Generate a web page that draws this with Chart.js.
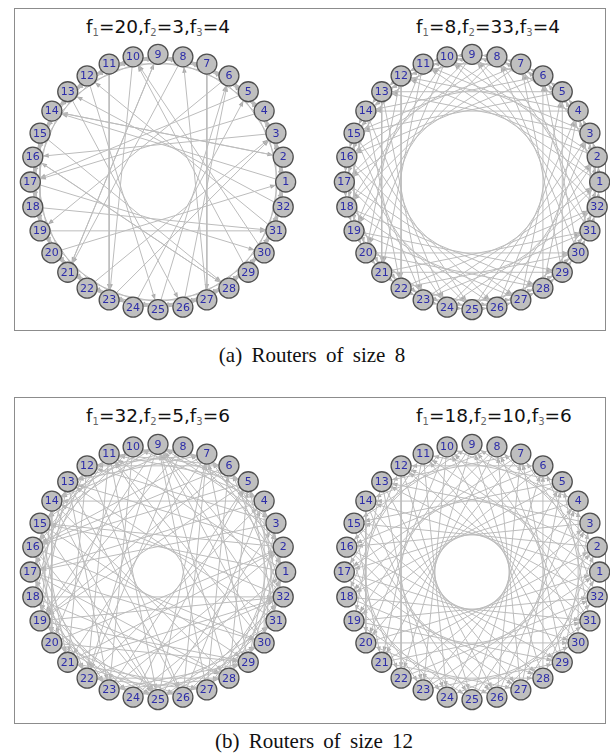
<!DOCTYPE html>
<html>
<head>
<meta charset="utf-8">
<script src="https://cdn.jsdelivr.net/npm/chart.js@4.4.1/dist/chart.umd.min.js"></script>
<style>
  body { margin: 0; width: 610px; height: 756px; overflow: hidden; background: #fff; position: relative; font-family: "DejaVu Sans", sans-serif; }
  .box { position: absolute; border: 1.5px solid #8c8c8c; }
  .plot { position: absolute; width: 300px; height: 300px; }
  .title { position: absolute; font-size: 18.5px; line-height: 22px; transform: translateX(-50%); white-space: nowrap; color: #111; }
  .title sub { font-size: 10px; color: #666; vertical-align: -3px; }
  .cap { position: absolute; font-family: "Liberation Serif", serif; font-size: 21px; line-height: 24px; transform: translateX(-50%); white-space: nowrap; word-spacing: 4px; color: #111; }
</style>
</head>
<body>
<div class="box" style="left:14px;top:8px;width:590px;height:321px"></div>
<div class="box" style="left:14px;top:397px;width:590px;height:325px"></div>

<div class="title" id="t1" style="left:158px;top:16px"></div>
<div class="title" id="t2" style="left:488px;top:16px"></div>
<div class="title" id="t3" style="left:158px;top:405px"></div>
<div class="title" id="t4" style="left:494px;top:405px"></div>

<div class="plot" style="left:8px;top:32px"><canvas id="g1" width="300" height="300"></canvas></div>
<div class="plot" style="left:322px;top:32px"><canvas id="g2" width="300" height="300"></canvas></div>
<div class="plot" style="left:8px;top:422px"><canvas id="g3" width="300" height="300"></canvas></div>
<div class="plot" style="left:322px;top:422px"><canvas id="g4" width="300" height="300"></canvas></div>

<div class="cap" style="left:312px;top:343px">(a) Routers of size 8</div>
<div class="cap" style="left:314px;top:729px">(b) Routers of size 12</div>

<script>
// router labels, counter-clockwise starting at the right
var nodeLabels = ['1','2','3','4','5','6','7','8','9','10','11','12','13','14','15','16',
                  '17','18','19','20','21','22','23','24','25','26','27','28','29','30','31','32'];

// f values printed above each ring
var fA1 = [20, 3, 4];
var fA2 = [8, 33, 4];
var fB1 = [32, 5, 6];
var fB2 = [18, 10, 6];

// link offsets (router i -> router i+offset).
// a single number = same offset for every router, a list = one offset per router
var longA1 = [13,12,13,13,12,13,20,13,12,13,12,13,13,20,13,12,13,13,12,13,20,13,12,13,13,12,13,20,13,12,13,13];
var hopsA1 = [longA1, 3, 4];
var hopsA2 = [8, 1, 4, 10];
var longB1 = [14,13,14,13,14,13,14,14,13,13,14,14,13,14,14,14,13,14,13,14,13,14,14,13,14,13,14,13,14,13,14,14];
var midB1  = [10,11,9,10,11,10,9,11,10,10,11,9,10,11,10,9,11,10,10,9,11,10,11,9,10,10,11,9,10,11,10,9];
var hopsB1 = [longB1, midB1, 5, 6];
var hopsB2 = [13, 10, 6];

var NODE_R = 10;

function titleHtml(f) {
  return 'f<sub>1</sub>=' + f[0] + ',f<sub>2</sub>=' + f[1] + ',f<sub>3</sub>=' + f[2];
}

function nodePos(i) {
  var a = i * 2 * Math.PI / nodeLabels.length;
  return { x: Math.cos(a), y: Math.sin(a) };
}

// arrow heads at the target end of each link
var arrowPlugin = {
  id: 'arrows',
  beforeDatasetsDraw: function (chart) {
    var ctx = chart.ctx;
    ctx.save();
    ctx.fillStyle = '#a9a9a9';
    chart.data.datasets.forEach(function (ds, k) {
      if (!ds.isLink) return;
      var pts = chart.getDatasetMeta(k).data;
      var x0 = pts[0].x, y0 = pts[0].y, x1 = pts[1].x, y1 = pts[1].y;
      var dx = x1 - x0, dy = y1 - y0, len = Math.sqrt(dx * dx + dy * dy);
      var ux = dx / len, uy = dy / len;
      var tx = x1 - ux * NODE_R, ty = y1 - uy * NODE_R;
      var bx = tx - ux * 6, by = ty - uy * 6;
      ctx.beginPath();
      ctx.moveTo(tx, ty);
      ctx.lineTo(bx - uy * 2.2, by + ux * 2.2);
      ctx.lineTo(bx + uy * 2.2, by - ux * 2.2);
      ctx.closePath();
      ctx.fill();
    });
    ctx.restore();
  }
};

// router numbers written inside the circles
var labelPlugin = {
  id: 'nodeLabels',
  afterDatasetsDraw: function (chart) {
    var ctx = chart.ctx;
    ctx.save();
    ctx.font = '11px "DejaVu Sans"';
    ctx.fillStyle = '#2c2ca8';
    ctx.textAlign = 'center';
    ctx.textBaseline = 'middle';
    chart.data.datasets.forEach(function (ds, k) {
      if (!ds.isNodes) return;
      chart.getDatasetMeta(k).data.forEach(function (p, i) {
        ctx.fillText(nodeLabels[i], p.x, p.y + 0.5);
      });
    });
    ctx.restore();
  }
};

function drawRing(id, hops) {
  var n = nodeLabels.length;
  var nodes = [];
  for (var i = 0; i < n; i++) nodes.push(nodePos(i));

  var datasets = [{
    isNodes: true,
    data: nodes,
    pointRadius: NODE_R,
    pointBackgroundColor: '#bfbfbf',
    pointBorderColor: '#505050',
    pointBorderWidth: 1.3,
    showLine: false,
    order: 0
  }];

  for (var i = 0; i < n; i++) {
    hops.forEach(function (h) {
      var off = Array.isArray(h) ? h[i] : h;
      var j = (i + off) % n;
      datasets.push({
        isLink: true,
        data: [nodes[i], nodes[j]],
        showLine: true,
        pointRadius: 0,
        borderColor: '#bcbcbc',
        borderWidth: 1,
        order: 1
      });
    });
  }

  new Chart(document.getElementById(id), {
    type: 'scatter',
    data: { datasets: datasets },
    options: {
      responsive: false,
      animation: false,
      devicePixelRatio: 1,
      layout: { padding: 0, autoPadding: false },
      scales: {
        x: { type: 'linear', min: -1.175, max: 1.175, display: false },
        y: { type: 'linear', min: -1.175, max: 1.175, display: false }
      },
      plugins: { legend: { display: false }, tooltip: { enabled: false } }
    },
    plugins: [arrowPlugin, labelPlugin]
  });
}

document.getElementById('t1').innerHTML = titleHtml(fA1);
document.getElementById('t2').innerHTML = titleHtml(fA2);
document.getElementById('t3').innerHTML = titleHtml(fB1);
document.getElementById('t4').innerHTML = titleHtml(fB2);

drawRing('g1', hopsA1);
drawRing('g2', hopsA2);
drawRing('g3', hopsB1);
drawRing('g4', hopsB2);
</script>
</body>
</html>
